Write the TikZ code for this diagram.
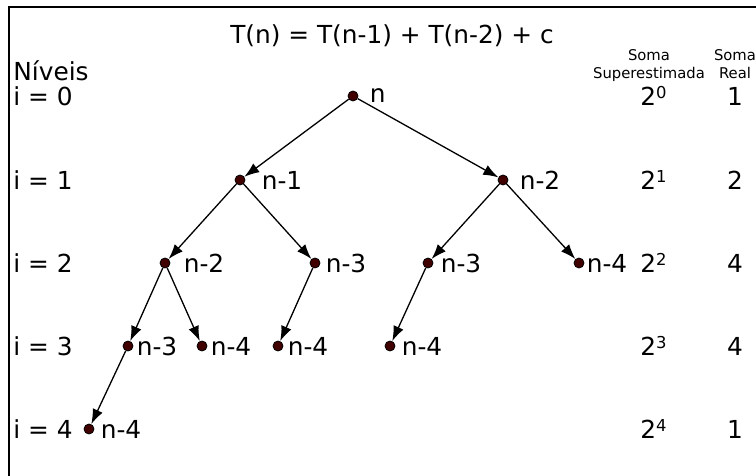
\documentclass[tikz,border=0pt]{standalone}
\usepackage{fontspec}
\setmainfont{DejaVu Sans}
\usetikzlibrary{arrows.meta,positioning}
\definecolor{ink}{RGB}{0,0,0}
\definecolor{dotc}{RGB}{64,0,0}
\tikzset{
  vtx/.style={circle,draw=ink,fill=dotc,line width=0.4pt,inner sep=0pt,minimum size=5pt},
  lbl/.style={inner sep=0pt,font=\fontsize{12.4}{15}\selectfont,anchor=west},
  hdr/.style={inner sep=0pt,font=\fontsize{7.4}{9}\selectfont,align=center},
  arr/.style={-{Latex[length=7.5pt,width=5.4pt]},line width=0.65pt,ink},
}
\newcommand{\pot}[1]{2\raisebox{3.6pt}{\fontsize{8.2}{8}\selectfont #1}}

\begin{document}
\begin{tikzpicture}[x=0.5pt,y=-0.5pt]
  \useasboundingbox (0,0) rectangle (756,476);
  % frame
  \draw[line width=1pt] (9,476) -- (9,7) -- (756,7);

  % title
  \node[lbl,anchor=base] (tt) at (392,44) {T(n) = T(n-1) + T(n-2) + c};

  % levels
  \node[lbl,anchor=base west] (niv) at (13,81) {Níveis};
  \foreach \i/\y in {0/96,1/180,2/263,3/346,4/429}
    \node[lbl] (lv\i) at (13,\y) {i = \i};

  % tree
  \node[vtx] (r) at (353,96) {};
  \node[vtx] (a1) at (240,180) {};
  \node[vtx] (a2) at (503,180) {};
  \node[vtx] (b1) at (165,263) {};
  \node[vtx] (b2) at (315,263) {};
  \node[vtx] (b3) at (428,263) {};
  \node[vtx] (b4) at (579,263) {};
  \node[vtx] (c1) at (128,346) {};
  \node[vtx] (c2) at (202,346) {};
  \node[vtx] (c3) at (278,346) {};
  \node[vtx] (c4) at (390,346) {};
  \node[vtx] (d1) at (89,429) {};

  \node[lbl,right=5.5pt of r] (lr) {n};
  \node[lbl,right=8pt of a1] (la1) {n-1};
  \node[lbl,right=5.5pt of a2] (la2) {n-2};
  \node[lbl,right=6.5pt of b1] (lb1) {n-2};
  \node[lbl,right=2.5pt of b2] (lb2) {n-3};
  \node[lbl,right=3.5pt of b3] (lb3) {n-3};
  \node[lbl,right=1pt of b4] (lb4) {n-4};
  \node[lbl,right=1.5pt of c1] (lc1) {n-3};
  \node[lbl,right=1.5pt of c2] (lc2) {n-4};
  \node[lbl,right=2pt of c3] (lc3) {n-4};
  \node[lbl,right=3pt of c4] (lc4) {n-4};
  \node[lbl,right=3pt of d1] (ld1) {n-4};

  \foreach \a/\b in {r/a1,r/a2,a1/b1,a1/b2,a2/b3,a2/b4,b1/c1,b1/c2,b2/c3,b3/c4,c1/d1}
    \draw[arr] (\a) -- (\b);

  % sums
  \node[hdr,anchor=north] (hs) at (649,49) {Soma\\Superestimada};
  \node[hdr,anchor=north] (hr) at (735,49) {Soma\\Real};
  \foreach \k/\v/\y in {0/1/96,1/2/180,2/4/263,3/4/346,4/1/429}{
    \node[lbl] (s\k) at (640,\y) {\pot{\k}};
    \node[lbl,anchor=center] (v\k) at (735,\y) {\v};
  }
\end{tikzpicture}
\end{document}
